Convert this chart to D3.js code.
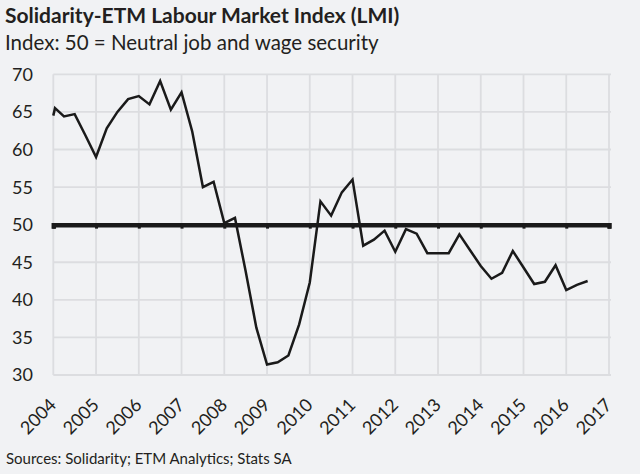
<!DOCTYPE html>
<html>
<head>
<meta charset="utf-8">
<script src="https://cdn.jsdelivr.net/npm/d3@7"></script>
<style>
  body { margin: 0; background: #f1f2f4; }
  svg { display: block; font-family: Lato, "Open Sans", sans-serif; }
</style>
</head>
<body>
<svg id="chart" width="640" height="474"></svg>
<script>
// quarterly readings (decimal year) of the LMI
var dates = [2004.0, 2004.04, 2004.25, 2004.5, 2004.75, 2005.0, 2005.25, 2005.5, 2005.75,
  2006.0, 2006.25, 2006.5, 2006.75, 2007.0, 2007.25, 2007.5, 2007.75,
  2008.0, 2008.25, 2008.5, 2008.75, 2009.0, 2009.25, 2009.5, 2009.75,
  2010.0, 2010.25, 2010.5, 2010.75, 2011.0, 2011.25, 2011.5, 2011.75,
  2012.0, 2012.25, 2012.5, 2012.75, 2013.0, 2013.25, 2013.5, 2013.75,
  2014.0, 2014.25, 2014.5, 2014.75, 2015.0, 2015.25, 2015.5, 2015.75,
  2016.0, 2016.25, 2016.5];
var lmi = [64.5, 65.5, 64.4, 64.7, 61.9, 59.0, 62.8, 65.0, 66.7,
  67.1, 66.0, 69.1, 65.3, 67.6, 62.4, 55.0, 55.7,
  50.2, 50.9, 43.8, 36.3, 31.4, 31.7, 32.6, 36.7,
  42.3, 53.1, 51.2, 54.3, 56.0, 47.2, 48.0, 49.2,
  46.4, 49.4, 48.8, 46.2, 46.2, 46.2, 48.7, 46.6,
  44.5, 42.8, 43.6, 46.5, 44.3, 42.1, 42.4, 44.6,
  41.3, 42.0, 42.5];
var yearTicks = d3.range(2004, 2018);
var valueTicks = [30, 35, 40, 45, 50, 55, 60, 65, 70];
var neutral = 50;

var title = "Solidarity-ETM Labour Market Index (LMI)";
var subtitle = "Index: 50 = Neutral job and wage security";
var source = "Sources: Solidarity; ETM Analytics; Stats SA";

var svg = d3.select("#chart");
var plotLeft = 53.3, plotRight = 609, plotTop = 74.3, plotBottom = 375;

var x = d3.scaleLinear().domain([2004, 2017]).range([plotLeft, plotRight]);
var y = d3.scaleLinear().domain([30, 70]).range([plotBottom, plotTop]);

svg.append("text").attr("x", 5).attr("y", 23)
  .attr("font-size", 21).attr("font-weight", "bold").attr("fill", "#231f20")
  .text(title);
svg.append("text").attr("x", 5).attr("y", 50)
  .attr("font-size", 20.5).attr("fill", "#231f20")
  .text(subtitle);

/* grid */
var grid = svg.append("g").attr("stroke", "#dcdde0").attr("stroke-width", 1.8);
grid.selectAll(".h").data(valueTicks).enter().append("line")
  .attr("x1", plotLeft).attr("x2", plotRight + 2)
  .attr("y1", function (d) { return y(d); })
  .attr("y2", function (d) { return y(d); });
grid.selectAll(".v").data(yearTicks).enter().append("line")
  .attr("y1", plotTop).attr("y2", plotBottom)
  .attr("x1", function (d) { return x(d); })
  .attr("x2", function (d) { return x(d); });

/* y labels */
svg.selectAll(".ylab").data(valueTicks).enter().append("text")
  .attr("x", 33).attr("y", function (d) { return y(d); })
  .attr("dy", "0.36em").attr("text-anchor", "end")
  .attr("font-size", 18).attr("fill", "#231f20")
  .text(function (d) { return d; });

/* x labels */
svg.selectAll(".xlab").data(yearTicks).enter().append("text")
  .attr("transform", function (d) { return "translate(" + (x(d) + 4) + ",406) rotate(-45)"; })
  .attr("text-anchor", "end")
  .attr("font-size", 18).attr("fill", "#231f20")
  .text(function (d) { return d; });

/* neutral line with ticks */
var axis = d3.axisBottom(x).tickValues(yearTicks).tickSize(4).tickFormat("");
var ax = svg.append("g").attr("transform", "translate(0," + y(neutral) + ")").call(axis);
ax.select(".domain").attr("stroke", "#1a1a1a").attr("stroke-width", 4.5);
ax.selectAll(".tick line").attr("stroke", "#1a1a1a").attr("stroke-width", 3);

/* series */
var line = d3.line()
  .x(function (d, i) { return x(dates[i]); })
  .y(function (d) { return y(d); });
svg.append("path").datum(lmi)
  .attr("d", line)
  .attr("fill", "none")
  .attr("stroke", "#1a1a1a")
  .attr("stroke-width", 2.5)
  .attr("stroke-linejoin", "miter");

svg.append("text").attr("x", 6).attr("y", 464)
  .attr("font-size", 15).attr("fill", "#231f20")
  .text(source);
</script>
</body>
</html>
